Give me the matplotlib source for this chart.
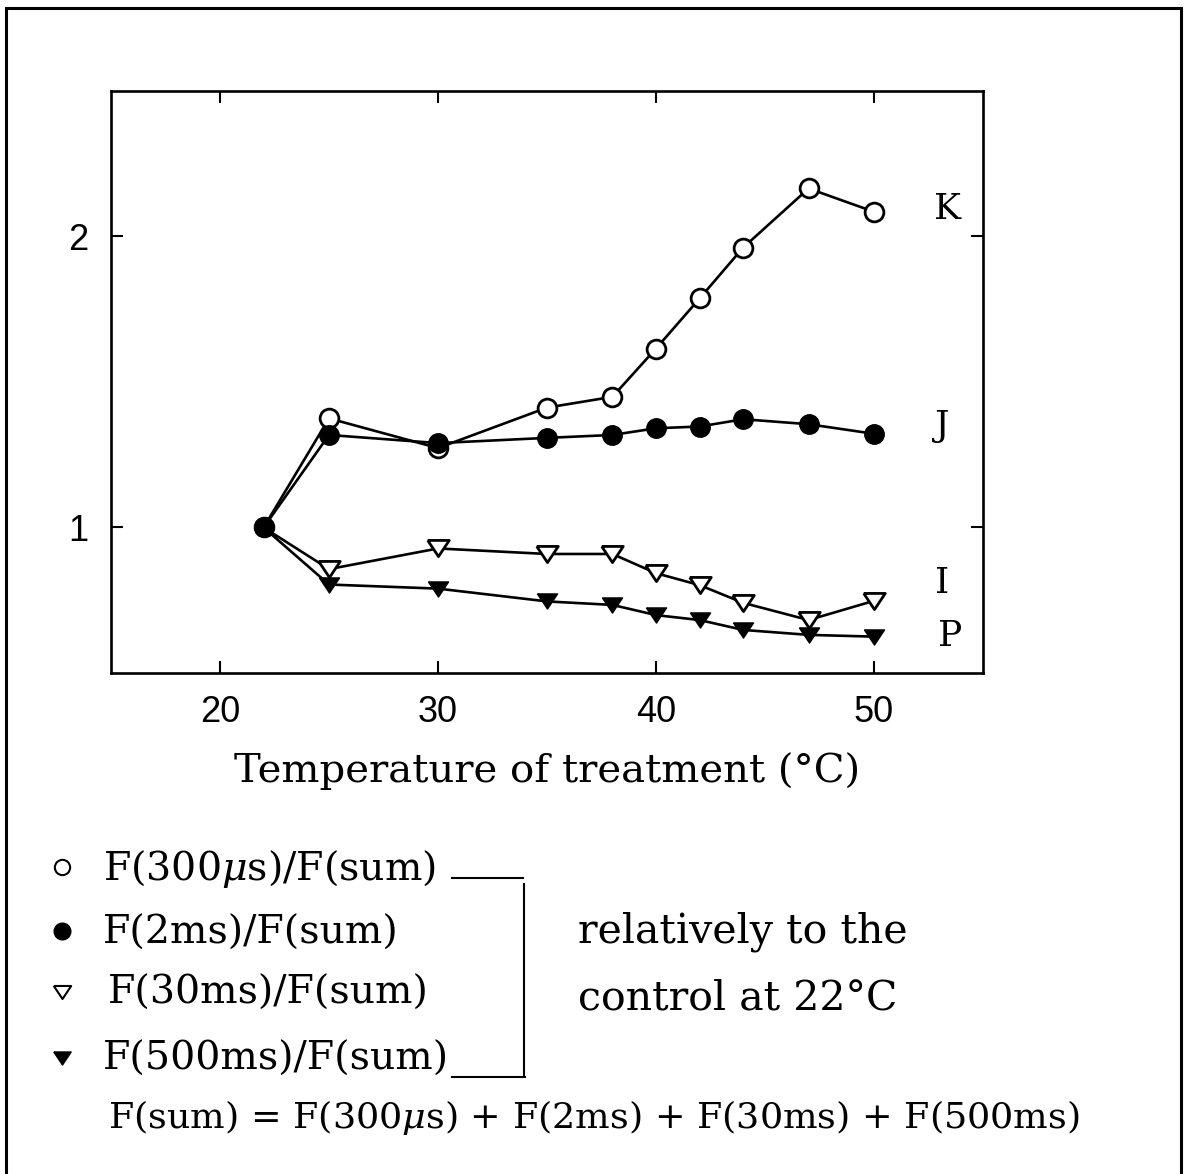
import matplotlib
matplotlib.use("Agg")
import matplotlib.pyplot as plt

# ---------------- data ----------------
temps = [22, 25, 30, 35, 38, 40, 42, 44, 47, 50]
k_300us = [1.0, 1.375, 1.273, 1.412, 1.449, 1.615, 1.787, 1.962, 2.165, 2.085]
j_2ms = [1.0, 1.318, 1.290, 1.308, 1.318, 1.341, 1.347, 1.372, 1.355, 1.322]
i_30ms = [1.0, 0.857, 0.928, 0.909, 0.909, 0.843, 0.802, 0.741, 0.682, 0.748]
p_500ms = [1.0, 0.804, 0.790, 0.746, 0.734, 0.699, 0.682, 0.648, 0.631, 0.625]

xticks = [20, 30, 40, 50]
yticks = [1, 2]
curve_names = ["K", "J", "I", "P"]
xlabel = "Temperature of treatment (°C)"
legend_texts = [r"F(300$\mu$s)/F(sum)", "F(2ms)/F(sum)", "F(30ms)/F(sum)", "F(500ms)/F(sum)"]
note_lines = ["relatively to the", "control at 22°C"]
formula = r"F(sum) = F(300$\mu$s) + F(2ms) + F(30ms) + F(500ms)"

# ---------------- style ----------------
plt.rcParams["mathtext.fontset"] = "dejavuserif"
SERIF = "DejaVu Serif"
SANS = "Liberation Sans"

W, H = 1186, 1174
fig = plt.figure(figsize=(W / 100, H / 100), dpi=100)
fig.patch.set_facecolor("white")

# axes placement in pixels
ax_l, ax_r, ax_t, ax_b = 111, 983, 91, 673
ax = fig.add_axes([ax_l / W, 1 - ax_b / H, (ax_r - ax_l) / W, (ax_b - ax_t) / H])
ax.set_xlim(15, 55)
ax.set_ylim(0.5, 2.5)
ax.set_xticks(xticks)
ax.set_yticks(yticks)
ax.tick_params(direction="in", top=True, right=True, length=8.8, width=1.5,
               pad=16, labelsize=26)
for lab in ax.get_xticklabels() + ax.get_yticklabels():
    lab.set_fontfamily(SANS)
for s in ax.spines.values():
    s.set_linewidth(1.9)

# triangle marker wider than tall
tri = [(-1.0, 0.75), (1.0, 0.75), (0.0, -0.75), (-1.0, 0.75)]

lw = 1.9
# the common control point (22 °C) is shown only by the filled circle
ax.plot(temps, i_30ms, color="black", lw=lw, marker=tri, ms=15.5,
        mfc="white", mec="black", mew=2.0, zorder=3, markevery=slice(1, None))
ax.plot(temps, p_500ms, color="black", lw=lw, marker=tri, ms=14.5,
        mfc="black", mec="black", mew=1.0, zorder=4, markevery=slice(1, None))
ax.plot(temps, k_300us, color="black", lw=lw, marker="o", ms=13.5,
        mfc="white", mec="black", mew=2.0, zorder=5)
ax.plot(temps, j_2ms, color="black", lw=lw, marker="o", ms=14,
        mfc="black", mec="black", mew=1.0, zorder=6)

# curve labels at right
label_px = [(948, 219), (942, 436), (942, 593), (950, 646)]
for name, (px, py) in zip(curve_names, label_px):
    fig.text(px / W, 1 - py / H, name, family=SERIF, fontsize=26,
             ha="center", va="baseline")

ax.set_xlabel(xlabel, family=SERIF, fontsize=24, va="baseline")
ax.xaxis.set_label_coords(0.5, -(782 - ax_b) / (ax_b - ax_t))

# ---------------- overlay (pixel coordinates) ----------------
ov = fig.add_axes([0, 0, 1, 1], zorder=-1)
ov.set_xlim(0, W)
ov.set_ylim(H, 0)
ov.axis("off")

# outer frame
ov.plot([6, 6, 1181, 1181], [H + 5, 8, 8, H + 5], color="black", lw=2.2,
        solid_joinstyle="miter")

# legend markers
ov.plot([62], [867], marker="o", ms=11, mfc="white", mec="black", mew=1.5, ls="none")
ov.plot([62], [931], marker="o", ms=12, mfc="black", mec="black", ls="none")
ov.plot([62], [992], marker=tri, ms=12.5, mfc="white", mec="black", mew=1.5, ls="none")
ov.plot([62], [1058], marker=tri, ms=12.5, mfc="black", mec="black", ls="none")

# bracket
ov.plot([452, 523], [878, 878], color="black", lw=1.5)
ov.plot([524, 524], [884, 1076], color="black", lw=1.5)
ov.plot([452, 525], [1077, 1077], color="black", lw=1.5)

renderer = fig.canvas.get_renderer()


def fit(t, target):
    w = t.get_window_extent(renderer).width
    t.set_fontsize(t.get_fontsize() * target / w)


leg_x = [103, 103, 108, 103]
leg_y = [880, 944, 1004, 1070]
texts = []
for s, x, y in zip(legend_texts, leg_x, leg_y):
    texts.append(ov.text(x, y, s, family=SERIF, fontsize=24, ha="left", va="baseline"))
fit(texts[3], 347)
leg_fs = texts[3].get_fontsize()
for t in texts[:3]:
    t.set_fontsize(leg_fs)

ov.text(578, 942, note_lines[0], family=SERIF, fontsize=leg_fs * 1.04,
        ha="left", va="baseline")
ov.text(578, 1010, note_lines[1], family=SERIF, fontsize=leg_fs * 1.04,
        ha="left", va="baseline")

f = ov.text(108, 1128, formula, family=SERIF, fontsize=22, ha="left", va="baseline")
fit(f, 969)

# fit xlabel width
xl = ax.xaxis.label
fit(xl, 628)

fig.savefig("out.png", dpi=100, facecolor="white")
